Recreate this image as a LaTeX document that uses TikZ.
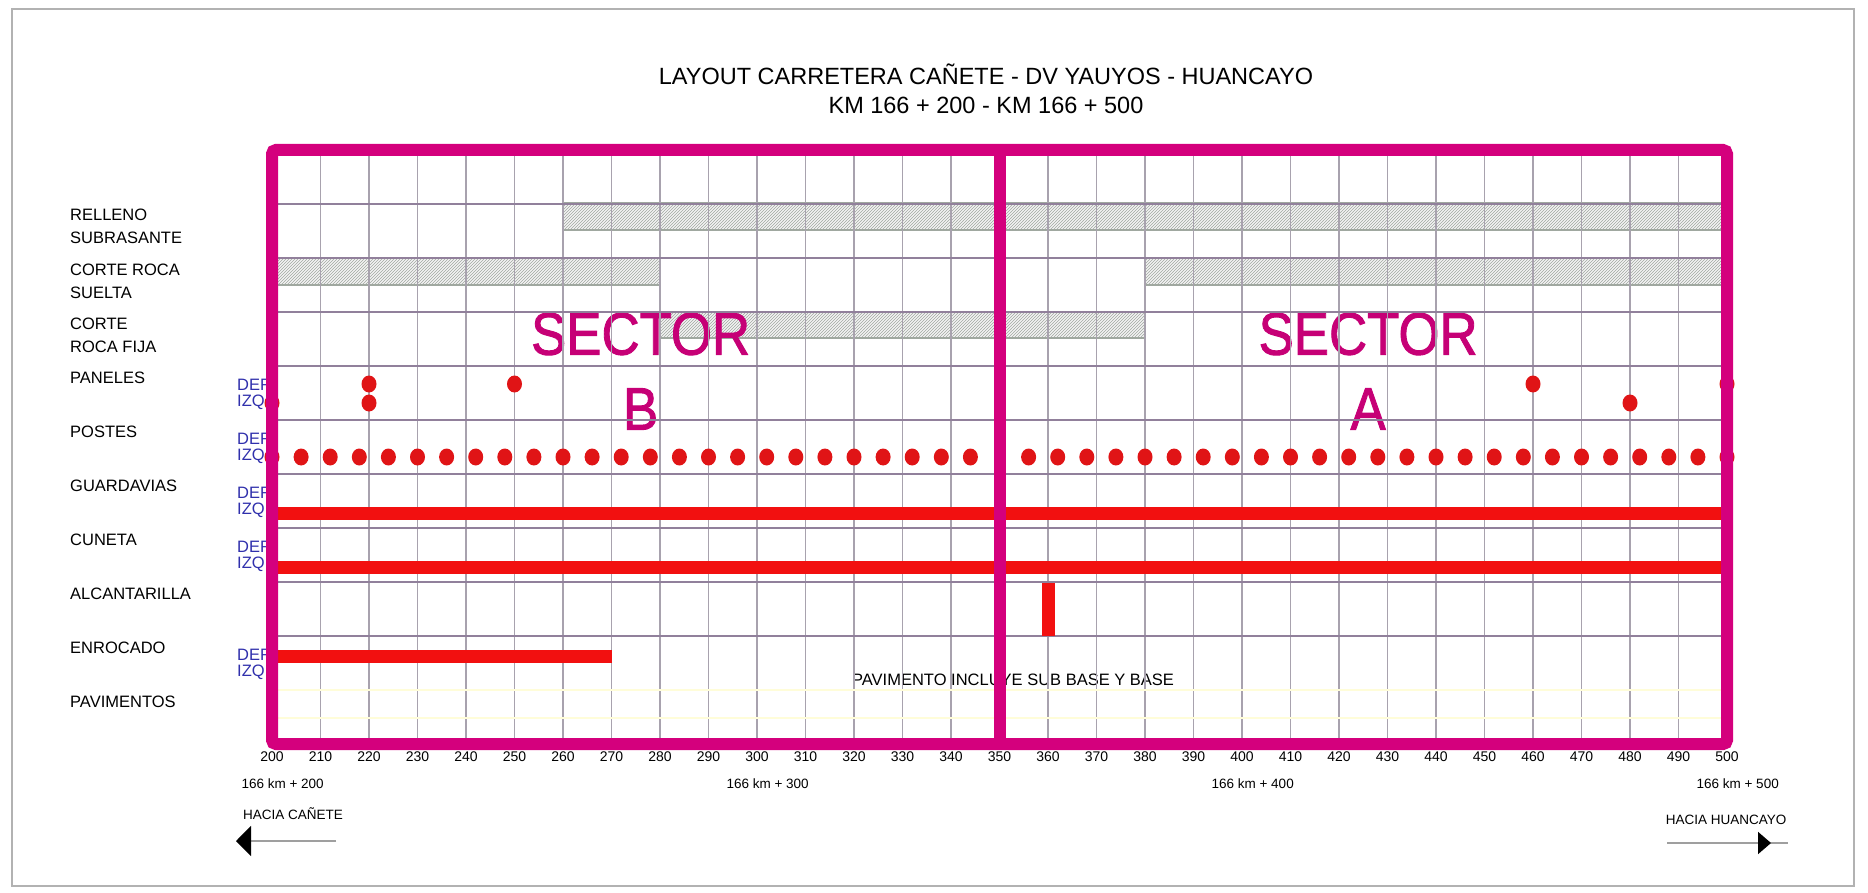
\documentclass[tikz,border=0pt]{standalone}
\usepackage{fontspec}
\setmainfont{Liberation Sans}
\newfontfamily\sectorfont[FakeBold=1.6]{Liberation Sans}
\usetikzlibrary{patterns,arrows.meta}
\definecolor{magframe}{RGB}{212,0,125}
\definecolor{sectxt}{RGB}{198,0,118}
\definecolor{dotred}{RGB}{224,20,22}
\definecolor{barred}{RGB}{242,16,16}
\definecolor{gridv}{RGB}{168,162,174}
\definecolor{gridh}{RGB}{145,128,155}
\definecolor{derblue}{RGB}{48,48,172}
\definecolor{hatchline}{RGB}{160,168,160}
\begin{document}
\begin{tikzpicture}[x=1pt,y=-1pt,
  lbl/.style={anchor=west,align=left,inner sep=0pt,font=\fontsize{16.5}{23}\selectfont},
  side/.style={anchor=west,inner sep=0pt,text=derblue,font=\fontsize{16.5}{18}\selectfont},
  tick/.style={inner sep=0pt,font=\fontsize{14}{16}\selectfont},
  kmlbl/.style={inner sep=0pt,font=\fontsize{13.5}{16}\selectfont},
  sector/.style={inner sep=0pt,text=sectxt,xscale=0.88,font=\sectorfont\fontsize{60}{60}\selectfont},
  hatch/.style={draw=hatchline,line width=1.2pt,pattern=north east lines,pattern color=hatchline,preaction={fill=gray!9}},
  gridline/.style={line width=1.1pt}]
  \useasboundingbox (0,0) rectangle (1868,893);
  \draw[gray!60,line width=1.5pt] (12,9) rectangle (1854,886);
  \node[inner sep=0pt,font=\fontsize{23.5}{26}\selectfont] (title) at (986,74) {LAYOUT CARRETERA CAÑETE - DV YAUYOS - HUANCAYO};
  \node[inner sep=0pt,font=\fontsize{23.5}{26}\selectfont] (tramo) at (986,105) {KM 166 + 200 - KM 166 + 500};
  \node[lbl] (relleno) at (70,226.5) {RELLENO\\SUBRASANTE};
  \node[lbl] (suelta) at (70,281) {CORTE ROCA\\SUELTA};
  \node[lbl] (fija) at (70,335) {CORTE\\ROCA FIJA};
  \foreach \t [count=\i from 0] in {PANELES,POSTES,GUARDAVIAS,CUNETA,ALCANTARILLA,ENROCADO,PAVIMENTOS}
    \node[lbl] (row\i) at (70,378+54*\i) {\t};
  \foreach \r in {366,420,474,528,636}{
    \node[side] (der\r) at (237,\r+19) {DER};
    \node[side] (izq\r) at (237,\r+36) {IZQ};
  }
  \node[kmlbl] (haciaW) at (293,814) {HACIA CAÑETE};
  \node[kmlbl] (haciaE) at (1726,820) {HACIA HUANCAYO};
  \coordinate (wTail) at (336,841);
  \coordinate (wTip) at (236,841);
  \coordinate (eTail) at (1667,843);
  \coordinate (eTip) at (1771,843);
  \coordinate (eEnd) at (1788,843);
  \draw[gray!75,line width=1.5pt,-{Triangle[length=15pt,width=30pt,color=black]}] (wTail) -- (wTip);
  \draw[gray!75,line width=1.8pt] (eTail) -- (eEnd);
  \draw[gray!75,line width=1.8pt,-{Triangle[length=13pt,width=22pt,color=black]}] (eTail) -- (eTip);
  \begin{scope}[x=4.85pt,xshift=-698pt]
    \path[hatch] (260,203) rectangle (500,230);
    \path[hatch] (200,258) rectangle (280,285);
    \path[hatch] (380,258) rectangle (500,285);
    \path[hatch] (280,312) rectangle (380,338);
    \node[sector] (sectorB) at (276,334) {SECTOR};
    \node[sector] (letterB) at (276,409) {B};
    \node[sector] (sectorA) at (426,334) {SECTOR};
    \node[sector] (letterA) at (426,409) {A};
    \node[inner sep=0pt,font=\fontsize{16.5}{18}\selectfont] (pav) at (352.8,680) {PAVIMENTO INCLUYE SUB BASE Y BASE};
    \foreach \v in {210,220,...,490}
      \draw[gridline,gridv] (\v,150) -- (\v,744);
    \foreach \y in {204,258,...,636}
      \draw[gridline,gridh] (200,\y) -- (500,\y);
    \draw[gridline,yellow!15] (200,690) -- (500,690) (200,718) -- (500,718);
    \foreach \k in {0,...,24,26,27,...,50}
      \fill[dotred] (200+6*\k,457) ellipse [x radius=7.5pt,y radius=8.5pt];
    \foreach \v/\y in {220/384,250/384,460/384,500/384,200/403,220/403,480/403}
      \fill[dotred] (\v,\y) ellipse [x radius=7.5pt,y radius=8.5pt];
    \fill[barred] (200,506.5) rectangle (500,519.5);
    \fill[barred] (200,560.5) rectangle (500,573.5);
    \fill[barred] (200,650) rectangle (270,663);
    \fill[barred] (358.66,583) rectangle (361.34,636);
    \draw[magframe,line width=12pt,rounded corners=4pt] (200,150) rectangle (500,744);
    \draw[magframe,line width=12pt] (350,150) -- (350,744);
    \foreach \v in {200,210,...,500}
      \node[tick] (k\v) at (\v,757) {\v};
    \foreach \v in {200,300,400,500}
      \node[kmlbl] (km\v) at (\v+2.2,784) {166 km + \v};
  \end{scope}
\end{tikzpicture}
\end{document}
